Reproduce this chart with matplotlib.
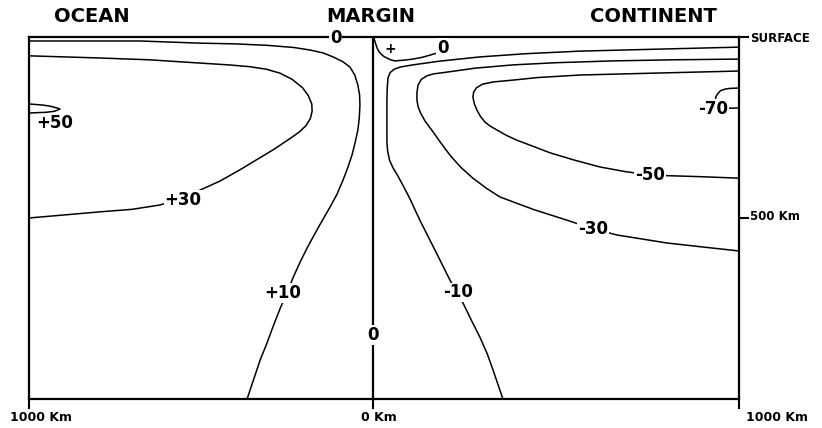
import numpy as np
import matplotlib
matplotlib.use("Agg")
import matplotlib.pyplot as plt

# ---- contour lines: x = distance from margin (km, ocean negative), d = depth (km)
p50_x = [-1000, -960, -939, -915, -910, -925, -950, -1000]
p50_d = [185, 188, 191, 197, 199, 205, 208, 210]

p30_x = [-1000, -794, -650, -503, -420, -358, -310, -270, -235, -205, -188, -178,
         -177, -182, -195, -215, -245, -291, -340, -387, -445, -503, -560, -619,
         -700, -794, -1000]
p30_d = [52, 58, 63, 72, 77, 82, 89, 100, 117, 140, 162, 185, 205, 225, 245, 263,
         283, 312, 340, 367, 398, 423, 446, 464, 476, 483, 500]

p10_x = [-1000, -677, -503, -400, -308, -230, -183, -145, -116, -88, -67, -53, -44,
         -39, -38, -40, -44, -52, -61, -73, -87, -105, -125, -145, -163, -190, -212,
         -232, -247, -270, -291, -310, -328, -366]
p10_d = [11, 11, 17, 19, 23, 29, 36, 44, 55, 68, 83, 105, 133, 160, 188, 225, 257,
         292, 326, 360, 395, 435, 470, 503, 533, 580, 622, 664, 699, 750, 801, 850,
         892, 1000]

zero_x = [2, 4, 7, 11, 16, 22, 30, 38, 48, 60, 85, 109, 135, 156, 172, 183, 192, 197,
          201, 202, 204, 205]
zero_d = [0, 8, 18, 30, 40, 47, 54, 58, 63, 66, 64, 61, 56, 50, 45, 41, 35, 28, 20,
          14, 6, 0]

m10_x = [1000, 800, 566, 420, 292, 180, 109, 74, 58, 47, 41, 39, 38, 38, 40, 45, 55,
         67, 82, 100, 128, 170, 210, 246, 270, 292, 312, 328, 355]
m10_d = [28, 33, 39, 46, 55, 67, 77, 83, 89, 98, 113, 140, 174, 290, 315, 340, 362,
         382, 410, 445, 506, 590, 671, 735, 785, 829, 875, 920, 1000]

m30_x = [1000, 820, 656, 500, 383, 280, 202, 165, 148, 132, 123, 120, 120, 123, 130,
         142, 164, 185, 210, 240, 273, 310, 347, 440, 530, 601, 667, 803, 900, 1000]
m30_d = [61, 63, 66, 71, 77, 86, 97, 102, 107, 117, 133, 155, 174, 192, 210, 232,
         262, 292, 326, 360, 390, 418, 442, 477, 506, 530, 547, 569, 580, 591]

m50_x = [1000, 800, 566, 450, 383, 330, 300, 283, 275, 273, 277, 284, 294, 306, 320,
         339, 365, 393, 440, 484, 550, 620, 690, 757, 803, 900, 1000]
m50_d = [94, 99, 105, 112, 119, 124, 130, 140, 152, 166, 185, 202, 220, 235, 246,
         257, 272, 285, 303, 320, 340, 359, 372, 381, 383, 386, 390]

m70_x = [1000, 975, 962, 950, 943, 937, 935, 940, 965, 1000]
m70_d = [141, 142, 144, 148, 155, 165, 175, 190, 197, 196]

margin_x = [0, 0]
margin_d = [0, 1000]

# ---- contour labels: text, x, depth
lab_text = ["+50", "+30", "+10", "0", "0", "+", "0", "-10", "-30", "-50", "-70"]
lab_x = [-924, -552, -262, -108, 0, 46, 191, 232, 601, 757, 929]
lab_d = [238, 450, 707, 3, 823, 33, 30, 705, 530, 381, 199]
lab_box = [False, True, True, True, True, False, True, True, True, True, True]

# ---- frame annotations
head_text = ["OCEAN", "MARGIN", "CONTINENT"]
head_x = [-817, -6, 765]
bottom_text = ["1000 Km", "0 Km", "1000 Km"]
bottom_x = [-965, 16, 1104]
right_text = ["SURFACE", "500 Km"]
right_d = [3, 497]

PX_L, PX_R = 0.344, 0.366


def fwd(x):
    x = np.asarray(x, dtype=float)
    return np.where(x < 0, x * PX_L, x * PX_R)


def inv(y):
    y = np.asarray(y, dtype=float)
    return np.where(y < 0, y / PX_L, y / PX_R)


fig = plt.figure(figsize=(8.22, 4.28), dpi=100)
ax = fig.add_axes([29 / 822, (428 - 399) / 428, (739 - 29) / 822, (399 - 37) / 428])
ax.set_xscale("function", functions=(fwd, inv))
ax.set_xlim(-1000, 1000)
ax.set_ylim(1000, 0)

lw = 1.1
for xs, ds in [(p50_x, p50_d), (p30_x, p30_d), (p10_x, p10_d), (zero_x, zero_d),
               (m10_x, m10_d), (m30_x, m30_d), (m50_x, m50_d), (m70_x, m70_d)]:
    ax.plot(xs, ds, color="black", lw=lw, solid_joinstyle="round",
            solid_capstyle="round")
ax.plot(margin_x, margin_d, color="black", lw=1.6)

for t, x, d, b in zip(lab_text, lab_x, lab_d, lab_box):
    kw = dict(ha="center", va="center", fontsize=12, fontweight="bold", zorder=5)
    if b:
        kw["bbox"] = dict(facecolor="white", edgecolor="none", pad=0.5)
    if t == "+":
        kw["fontsize"] = 10
    ax.text(x, d, t, **kw)

for s in ax.spines.values():
    s.set_linewidth(1.6)

ax.set_xticks([-1000, 0, 1000])
ax.tick_params(axis="x", direction="out", length=7, width=1.5, labelbottom=False)
ax.yaxis.tick_right()
ax.set_yticks([0, 500])
ax.tick_params(axis="y", direction="out", length=7, width=1.5, labelright=False)

for t, x in zip(head_text, head_x):
    ax.text(x, -58, t, ha="center", va="center", fontsize=14, fontweight="bold",
            clip_on=False)
for t, x in zip(bottom_text, bottom_x):
    ax.text(x, 1050, t, ha="center", va="center", fontsize=9, fontweight="bold",
            clip_on=False)
for t, d in zip(right_text, right_d):
    ax.text(1030, d, t, ha="left", va="center", fontsize=8.5, fontweight="bold",
            clip_on=False)

fig.savefig("out.png", dpi=100)
